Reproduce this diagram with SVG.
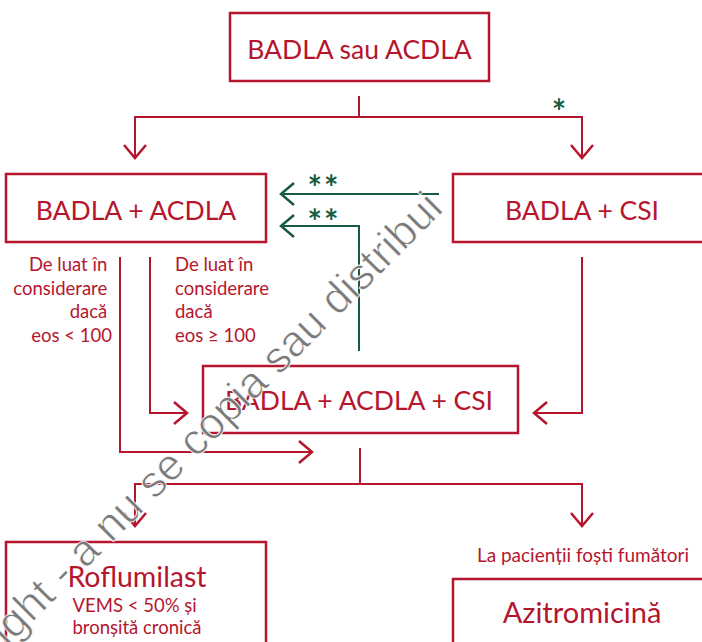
<svg xmlns="http://www.w3.org/2000/svg" width="702" height="642" viewBox="0 0 702 642">
  <defs>
    <style>
      .box { fill: #ffffff; stroke: #b5162e; stroke-width: 2.5; }
      .title { font-family: Lato, "Open Sans", sans-serif; font-size: 26.5px; fill: #b5162e; text-anchor: middle; }
      .note { font-family: Lato, "Open Sans", sans-serif; font-size: 18.5px; fill: #b5162e; }
      .red { fill: none; stroke: #b5162e; stroke-width: 2; }
      .green { fill: none; stroke: #185c40; stroke-width: 2; }
      .star { font-family: Lato, "Open Sans", sans-serif; font-weight: bold; font-size: 34px; fill: #185c40; letter-spacing: 2px; }
      .mark { font-family: "Liberation Sans", Arial, sans-serif; font-size: 44px; fill: #7a7a7a; stroke: #ffffff; stroke-width: 0.8; }
    </style>
    <marker id="arrRed" markerUnits="userSpaceOnUse" markerWidth="30" markerHeight="30" refX="0" refY="0" viewBox="-15 -15 30 30" orient="auto" overflow="visible">
      <path d="M-13,-11 L0,0 L-13,11" fill="none" stroke="#b5162e" stroke-width="2.5"/>
    </marker>
    <marker id="arrGreen" markerUnits="userSpaceOnUse" markerWidth="30" markerHeight="30" refX="0" refY="0" viewBox="-15 -15 30 30" orient="auto" overflow="visible">
      <path d="M-13,-11 L0,0 L-13,11" fill="none" stroke="#185c40" stroke-width="2.5"/>
    </marker>
  </defs>

  <rect width="702" height="642" fill="#ffffff"/>

  <!-- connectors -->
  <g id="connectors">
    <path class="red" d="M359,96 V117"/>
    <path class="red" d="M359,117 H135 V158" marker-end="url(#arrRed)"/>
    <path class="red" d="M359,117 H582 V158" marker-end="url(#arrRed)"/>
    <path class="red" d="M120,257 V452 H312" marker-end="url(#arrRed)"/>
    <path class="red" d="M150,257 V413 H187" marker-end="url(#arrRed)"/>
    <path class="red" d="M582,257 V413 H534" marker-end="url(#arrRed)"/>
    <path class="red" d="M360,448 V484"/>
    <path class="red" d="M360,484 H135 V526" marker-end="url(#arrRed)"/>
    <path class="red" d="M360,484 H582 V526" marker-end="url(#arrRed)"/>
    <path class="green" d="M439,194 H281" marker-end="url(#arrGreen)"/>
    <path class="green" d="M359,351 V226 H281" marker-end="url(#arrGreen)"/>
    <text class="star" x="560" y="124" text-anchor="middle">*</text>
    <text class="star" x="324" y="200" text-anchor="middle">**</text>
    <text class="star" x="324" y="234" text-anchor="middle">**</text>
    <text class="note" text-anchor="end">
      <tspan x="112" y="271">De luat în</tspan>
      <tspan x="112" y="294.5">considerare</tspan>
      <tspan x="112" y="318">dacă</tspan>
      <tspan x="112" y="341.5">eos &lt; 100</tspan>
    </text>
    <text class="note">
      <tspan x="175" y="271">De luat în</tspan>
      <tspan x="175" y="294.5">considerare</tspan>
      <tspan x="175" y="318">dacă</tspan>
      <tspan x="175" y="341.5">eos ≥ 100</tspan>
    </text>
    <text class="note" x="583" y="562" text-anchor="middle" style="font-size:19px">La pacienții foști fumători</text>
  </g>

  <!-- nodes -->
  <g id="start">
    <rect class="box" x="230" y="13" width="259" height="68"/>
    <text class="title" x="359.5" y="59">BADLA sau ACDLA</text>
  </g>
  <g id="badla-acdla">
    <rect class="box" x="6" y="174" width="260" height="68"/>
    <text class="title" x="136" y="220">BADLA + ACDLA</text>
  </g>
  <g id="badla-csi">
    <rect class="box" x="453" y="174" width="260" height="68"/>
    <text class="title" x="582" y="220">BADLA + CSI</text>
  </g>
  <g id="triple">
    <rect class="box" x="203" y="366" width="315" height="67"/>
    <text class="title" x="359" y="410">BADLA + ACDLA + CSI</text>
  </g>
  <g id="roflumilast">
    <rect class="box" x="6" y="542" width="260" height="130"/>
    <text class="title" x="137" y="587" style="font-size:28.5px">Roflumilast</text>
    <text class="note" text-anchor="middle">
      <tspan x="137" y="612">VEMS &lt; 50% și</tspan>
      <tspan x="137" y="634">bronșită cronică</tspan>
    </text>
  </g>
  <g id="azitromicina">
    <rect class="box" x="453" y="579" width="260" height="100"/>
    <text class="title" x="582" y="623" style="font-size:29px">Azitromicină</text>
  </g>

  <!-- overlay notice -->
  <text class="mark" x="445" y="210" text-anchor="end" transform="rotate(-45 445 210)">Copyright - a nu se copia sau distribui</text>
</svg>
